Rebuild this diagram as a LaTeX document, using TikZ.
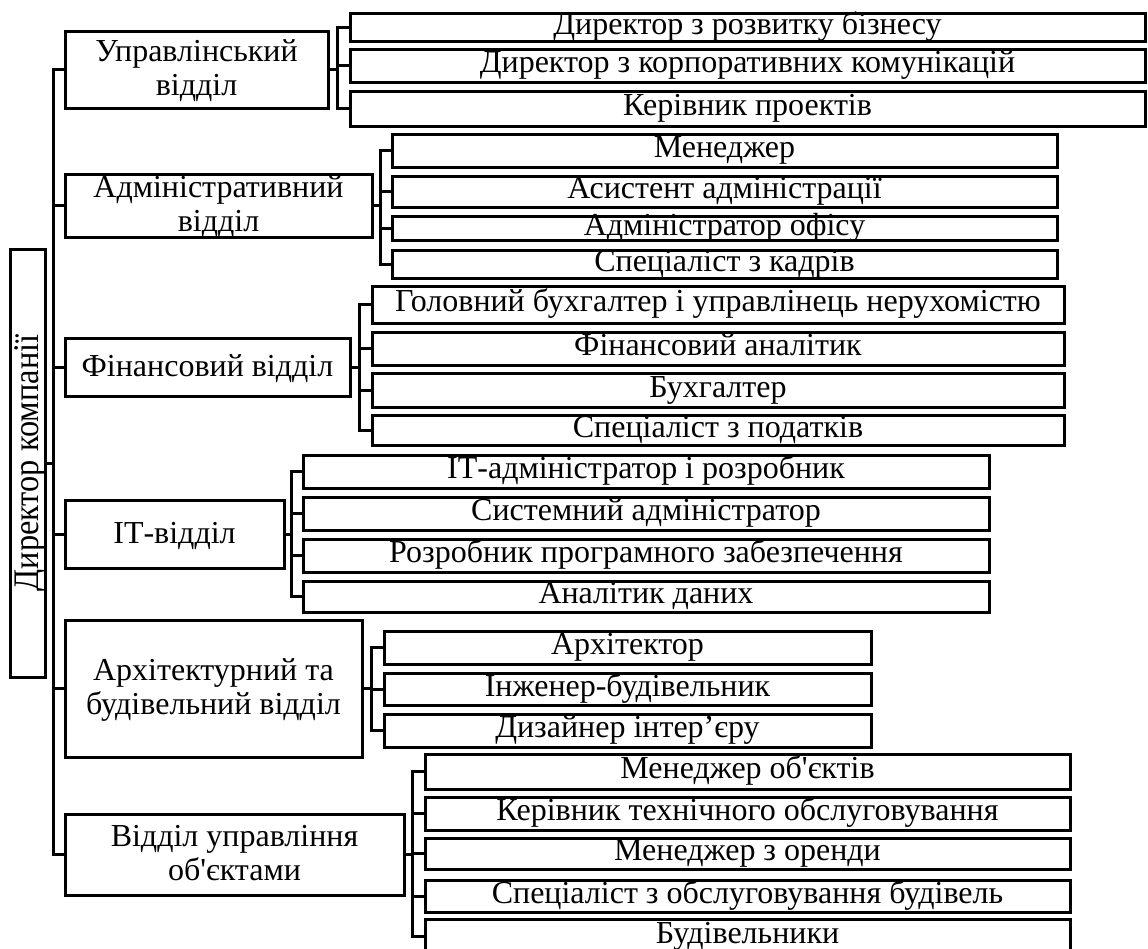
\documentclass[tikz,border=0pt]{standalone}
\usepackage{fontspec}
\setmainfont{Liberation Serif}[Ligatures=TeXOff]
\usepackage{graphicx}

\tikzset{
  box/.style={draw,line width=1.5pt,inner sep=0pt,align=center,
    font=\fontsize{16}{17}\selectfont,text height=7pt,text depth=0pt},
  two/.style={text height=25.5pt,text depth=0pt},
  sub/.style={box,minimum width=#1},
  link/.style={line width=1.5pt},
}

\begin{document}
\begin{tikzpicture}[x=0.5pt,y=-0.5pt]
\useasboundingbox (0,0) rectangle (1148,949);
\clip (0,0) rectangle (1148,949);

\node[box,rotate=90,minimum width=214pt,minimum height=17.5pt,
  font=\fontsize{18}{20}\selectfont,text height=11pt] (dir) at (27.5,463)
  {\scalebox{.9}[1]{Директор компанії}};

\node[box,two,minimum width=131.5pt,minimum height=38.5pt] (u) at (196.5,69.5) {Управлінський\\відділ};
\node[box,two,minimum width=153.5pt,minimum height=31.5pt] (a) at (218.5,205.5) {Адміністративний\\відділ};
\node[box,text height=9pt,minimum width=142.5pt,minimum height=29pt] (f) at (207.5,367) {Фінансовий відділ};
\node[box,text height=9pt,minimum width=109.5pt,minimum height=34pt] (it) at (174.5,534) {ІТ-відділ};
\node[box,two,minimum width=148.5pt,minimum height=68.5pt] (ab) at (213.5,688.5) {Архітектурний та\\будівельний відділ};
\node[box,two,minimum width=169.5pt,minimum height=40.5pt] (vo) at (234.5,854.5) {Відділ управління\\об'єктами};

\node[sub=397.5pt,minimum height=14pt] (u1) at (747.5,27) {Директор з розвитку бізнесу};
\node[sub=397.5pt,minimum height=16.5pt] (u2) at (747.5,65.5) {Директор з корпоративних комунікацій};
\node[sub=397.5pt,minimum height=17.5pt] (u3) at (747.5,108.5) {Керівник проектів};

\node[sub=332.5pt,minimum height=16.5pt] (a1) at (724.5,150.5) {Менеджер};
\node[sub=332.5pt,minimum height=15.5pt] (a2) at (724.5,191.5) {Асистент адміністрації};
\node[sub=332.5pt,minimum height=12pt] (a3) at (724.5,228) {Адміністратор офісу};
\node[sub=332.5pt,minimum height=14pt] (a4) at (724.5,264) {Спеціаліст з кадрів};

\node[sub=346pt,minimum height=18.5pt] (f1) at (718,304.5) {Головний бухгалтер і управлінець нерухомістю};
\node[sub=346pt,minimum height=16.5pt] (f2) at (718,348.5) {Фінансовий аналітик};
\node[sub=346pt,minimum height=17pt] (f3) at (718,390) {Бухгалтер};
\node[sub=346pt,minimum height=15pt] (f4) at (718,430) {Спеціаліст з податків};

\node[sub=343pt,minimum height=16.5pt] (it1) at (646,471.5) {ІТ-адміністратор і розробник};
\node[sub=343pt,minimum height=16.5pt] (it2) at (646,513.5) {Системний адміністратор};
\node[sub=343pt,minimum height=16.5pt] (it3) at (646,555.5) {Розробник програмного забезпечення};
\node[sub=343pt,minimum height=15.5pt] (it4) at (646,596.5) {Аналітик даних};

\node[sub=243.5pt,minimum height=16.5pt] (ab1) at (627.5,647.5) {Архітектор};
\node[sub=243.5pt,minimum height=16pt] (ab2) at (627.5,689) {Інженер-будівельник};
\node[sub=243.5pt,minimum height=16.5pt] (ab3) at (627.5,730.5) {Дизайнер інтер’єру};

\node[sub=322.5pt,minimum height=17.5pt] (vo1) at (747.5,771.5) {Менеджер об'єктів};
\node[sub=322.5pt,minimum height=16.5pt] (vo2) at (747.5,813.5) {Керівник технічного обслуговування};
\node[sub=322.5pt,minimum height=15.5pt] (vo3) at (747.5,853.5) {Менеджер з оренди};
\node[sub=322.5pt,minimum height=16pt] (vo4) at (747.5,896) {Спеціаліст з обслуговування будівель};
\node[sub=322.5pt,minimum height=17pt] (vo5) at (747.5,936) {Будівельники};

\draw[link] (u.west) -- ++(-10,0) coordinate (tr) |- (vo.west);
\draw[link] (dir.south) -- (dir.south -| tr);
\draw[link] (a.west) -- (a.west -| tr);
\draw[link] (f.west) -- (f.west -| tr);
\draw[link] (it.west) -- (it.west -| tr);
\draw[link] (ab.west) -- (ab.west -| tr);

\draw[link] (u1.west) -- ++(-11,0) coordinate (ub) |- (u3.west);
\draw[link] (u2.west) -- (u2.west -| ub);
\draw[link] (u.east) -- (u.east -| ub);

\draw[link] (a1.west) -- ++(-10,0) coordinate (ab0) |- (a4.west);
\draw[link] (a2.west) -- (a2.west -| ab0);
\draw[link] (a3.west) -- (a3.west -| ab0);
\draw[link] (a.east) -- (a.east -| ab0);

\draw[link] (f1.west) -- ++(-11,0) coordinate (fb) |- (f4.west);
\draw[link] (f2.west) -- (f2.west -| fb);
\draw[link] (f3.west) -- (f3.west -| fb);
\draw[link] (f.east) -- (f.east -| fb);

\draw[link] (it1.west) -- ++(-10,0) coordinate (itb) |- (it4.west);
\draw[link] (it2.west) -- (it2.west -| itb);
\draw[link] (it3.west) -- (it3.west -| itb);
\draw[link] (it.east) -- (it.east -| itb);

\draw[link] (ab1.west) -- ++(-11,0) coordinate (abb) |- (ab3.west);
\draw[link] (ab2.west) -- (ab2.west -| abb);
\draw[link] (ab.east) -- (ab.east -| abb);

\draw[link] (vo1.west) -- ++(-11,0) coordinate (vob) |- (vo5.west);
\draw[link] (vo2.west) -- (vo2.west -| vob);
\draw[link] (vo3.west) -- (vo3.west -| vob);
\draw[link] (vo4.west) -- (vo4.west -| vob);
\draw[link] (vo.east) -- (vo.east -| vob);
\end{tikzpicture}
\end{document}
